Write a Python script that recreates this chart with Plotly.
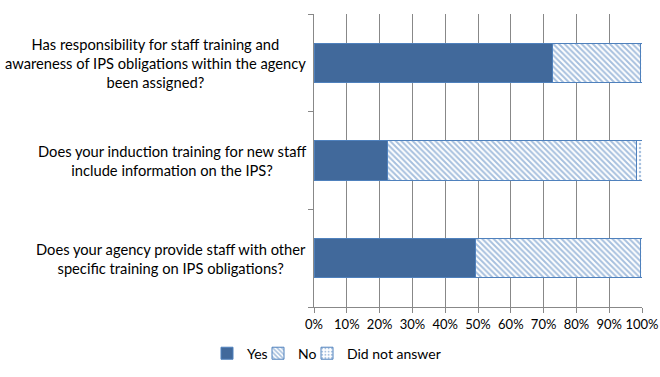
import plotly.graph_objects as go

questions = [
    ["Has responsibility for staff training and", "awareness of IPS obligations within the agency", "been assigned?"],
    ["Does your induction training for new staff", "include information on the IPS?"],
    ["Does your agency provide staff with other", "specific training on IPS obligations?"],
]
yes_vals = [72.6, 22.4, 49.3]
no_vals = [26.9, 75.9, 50.2]
dna_vals = [0.5, 1.7, 0.5]
x_ticks = [0, 10, 20, 30, 40, 50, 60, 70, 80, 90, 100]
x_tick_labels = [f"{v}%" for v in x_ticks]

pos = list(range(len(questions)))
dark = "#41699B"
edge = "#4F81BD"
FONT = "Lato, Calibri, sans-serif"

fig = go.Figure()
fig.add_trace(go.Bar(y=pos, x=yes_vals, orientation="h", name="Yes", width=0.4, legend="legend",
                     marker=dict(color=dark, line=dict(color=edge, width=1))))
fig.add_trace(go.Bar(y=pos, x=no_vals, orientation="h", name="No", width=0.4, legend="legend2",
                     marker=dict(color="white", line=dict(color=edge, width=1),
                                 pattern=dict(shape="\\", fgcolor=edge, bgcolor="white",
                                              size=4, solidity=0.5))))
fig.add_trace(go.Bar(y=pos, x=dna_vals, orientation="h", name="Did not answer", width=0.4, legend="legend3",
                     marker=dict(color="white", line=dict(color=edge, width=1),
                                 pattern=dict(shape=".", fgcolor=edge, bgcolor="white",
                                              size=4, solidity=0.3))))

annotations = []
for i, lines in enumerate(questions):
    annotations.append(dict(
        x=0, xref="paper", y=i, yref="y", text="<br>".join(lines), showarrow=False,
        xanchor="right", yanchor="middle", xshift=-6,
        font=dict(family=FONT, size=14.7, color="#000000"), align="center"))

leg_common = dict(orientation="h", xref="container", yref="container",
                  y=0.062, xanchor="left", yanchor="middle",
                  bgcolor="rgba(0,0,0,0)",
                  font=dict(family=FONT, size=14, color="#000000"))

fig.update_layout(
    barmode="stack",
    width=660, height=377,
    margin=dict(l=314, r=18, t=14, b=70),
    paper_bgcolor="white", plot_bgcolor="white",
    font=dict(family=FONT, size=13, color="#000000"),
    xaxis=dict(range=[0, 100], tickvals=x_ticks, ticktext=x_tick_labels,
               showgrid=True, gridcolor="#888888", gridwidth=1,
               showline=True, linecolor="#888888", linewidth=1,
               ticks="outside", ticklen=5, tickcolor="#888888",
               tickfont=dict(family=FONT, size=13, color="#000000"),
               zeroline=False, fixedrange=True, automargin=False),
    yaxis=dict(range=[2.5, -0.5], tickvals=[-0.5, 0.5, 1.5, 2.5], showticklabels=False,
               showgrid=False, showline=True, linecolor="#888888", linewidth=1,
               ticks="outside", ticklen=5, tickcolor="#888888", zeroline=False,
               automargin=False),
    showlegend=True,
    legend=dict(x=207 / 660, **leg_common),
    legend2=dict(x=258 / 660, **leg_common),
    legend3=dict(x=307 / 660, **leg_common),
    annotations=annotations,
)

fig.write_html("out.html")
